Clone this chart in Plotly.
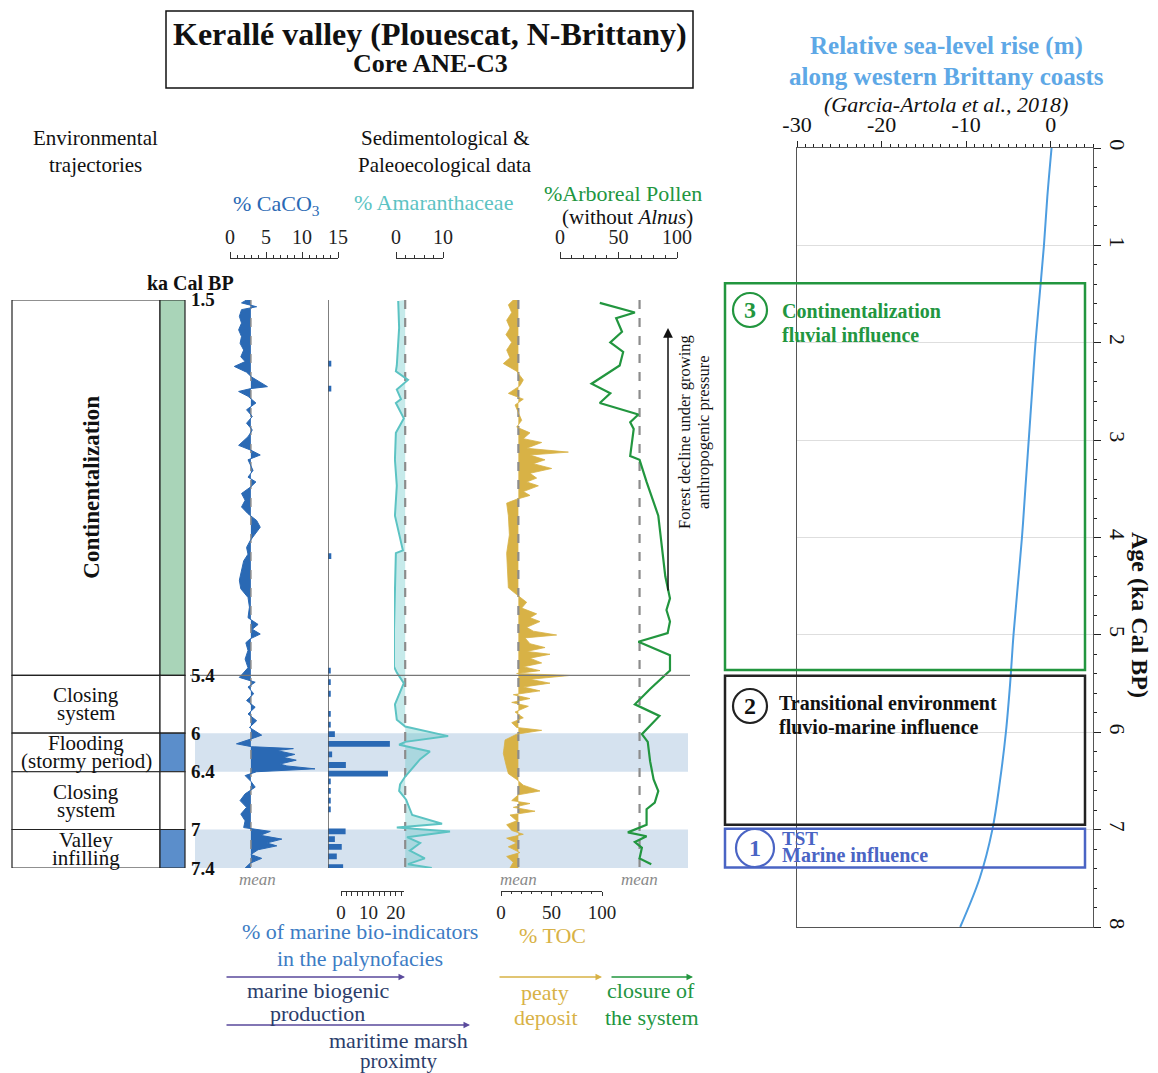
import plotly.graph_objects as go

W, H = 1158, 1073
FONT = "Liberation Serif"

# ---------------- core ANE-C3 (ages in ka cal BP) ----------------
CORE_TOP, CORE_BASE = 1.5, 7.4

ZONE_LIMITS = [1.5, 5.4, 6.0, 6.4, 7.0, 7.4]
ZONE_TEXT = [["Continentalization"], ["Closing", "system"], ["Flooding", "(stormy period)"],
             ["Closing", "system"], ["Valley", "infilling"]]
ZONE_STRIP = ["#a9d4b8", "#ffffff", "#5b8ecb", "#ffffff", "#5b8ecb"]
AGE_LABELS = ["1.5", "5.4", "6", "6.4", "7", "7.4"]
MARINE_BANDS = [(6.0, 6.4), (7.0, 7.4)]

# % CaCO3
CACO3_AGE = [1.50, 1.53, 1.57, 1.60, 1.67, 1.74, 1.81, 1.88, 1.95, 2.02,
             2.09, 2.14, 2.19, 2.25, 2.30, 2.35, 2.40, 2.42, 2.45, 2.50,
             2.57, 2.64, 2.71, 2.78, 2.85, 2.92, 3.01, 3.06, 3.11, 3.16,
             3.27, 3.34, 3.39, 3.44, 3.51, 3.58, 3.65, 3.72, 3.79, 3.86,
             3.93, 4.00, 4.07, 4.14, 4.21, 4.31, 4.41, 4.50, 4.59, 4.69,
             4.80, 4.87, 4.92, 4.97, 5.02, 5.06, 5.14, 5.23, 5.32, 5.42,
             5.47, 5.52, 5.59, 5.66, 5.73, 5.80, 5.87, 5.94, 6.02, 6.06,
             6.11, 6.14, 6.16, 6.18, 6.22, 6.25, 6.28, 6.32, 6.34, 6.37,
             6.40, 6.44, 6.50, 6.56, 6.63, 6.70, 6.77, 6.84, 6.91, 6.98,
             7.02, 7.06, 7.10, 7.14, 7.17, 7.21, 7.26, 7.30, 7.35, 7.40]
CACO3_PCT = [2.3, 1.6, 3.7, 1.6, 1.3, 1.6, 1.2, 1.6, 1.4, 1.9,
             1.5, 2.1, 0.6, 2.3, 3.0, 4.2, 5.2, 2.9, 1.2, 2.5,
             3.6, 2.3, 3.1, 2.3, 3.1, 2.5, 1.2, 2.9, 4.2, 2.5,
             3.2, 2.5, 3.6, 2.9, 1.6, 2.1, 1.6, 2.5, 3.7, 4.2,
             3.5, 2.8, 2.3, 2.5, 1.9, 1.6, 1.3, 1.5, 2.5, 2.7,
             2.5, 3.9, 3.1, 4.2, 2.8, 2.2, 2.5, 2.1, 2.5, 1.3,
             3.5, 2.5, 3.3, 2.3, 3.5, 2.5, 3.7, 2.7, 4.4, 2.9,
             0.9, 3.0, 8.8, 6.5, 9.0, 7.4, 9.2, 6.9, 7.9, 11.8,
             3.7, 2.1, 2.9, 3.5, 2.1, 1.4, 2.3, 1.5, 2.1, 1.9,
             5.6, 4.2, 7.2, 5.1, 6.5, 3.9, 2.9, 4.4, 2.8, 2.1]
CACO3_MEAN = 2.9

# % of marine bio-indicators in the palynofacies
MARINE_AGE = [2.16, 2.42, 4.16, 5.35, 5.47, 5.59, 5.80, 5.91, 6.01, 6.11, 6.22,
              6.33, 6.42, 6.50, 6.60, 6.70, 6.79, 7.02, 7.10, 7.18, 7.28, 7.39]
MARINE_PCT = [1.2, 1.2, 1.2, 1.0, 1.0, 1.0, 1.0, 1.0, 2.5, 22.5, 1.5,
              6.5, 21.8, 1.0, 1.0, 1.0, 1.0, 6.4, 2.5, 5.0, 3.2, 5.5]

# % Amaranthaceae
AMAR_AGE = [1.51, 1.79, 2.18, 2.24, 2.33, 2.43, 2.53, 2.57, 2.73, 2.88,
            3.16, 3.43, 3.74, 4.10, 4.13, 4.53, 4.92, 5.31, 5.37, 5.48,
            5.62, 5.70, 5.86, 5.93, 6.03, 6.09, 6.12, 6.19, 6.27, 6.45,
            6.53, 6.60, 6.69, 6.85, 6.94, 6.98, 7.02, 7.08, 7.14, 7.22,
            7.30, 7.36, 7.40]
AMAR_PCT = [0.9, 1.1, 0.6, 0.4, 3.0, 0.6, 1.5, 0.4, 2.1, 0.4,
            0.2, 0.6, 0.2, 1.9, 0.4, 0.2, 0.0, 0.0, 0.6, 2.1,
            0.9, 0.2, 0.6, 2.4, 11.6, 2.4, 1.1, 7.7, 5.6, 2.4,
            1.3, 1.1, 2.6, 3.9, 10.3, 0.6, 12.0, 2.8, 5.6, 3.4,
            6.6, 3.0, 8.1]
AMAR_MEAN = 2.4

# % TOC
TOC_AGE = [1.50, 1.55, 1.63, 1.71, 1.79, 1.86, 1.94, 2.02, 2.10, 2.16,
           2.24, 2.33, 2.39, 2.47, 2.53, 2.59, 2.67, 2.75, 2.82, 2.88,
           2.94, 2.98, 3.04, 3.08, 3.11, 3.16, 3.20, 3.25, 3.30, 3.35,
           3.39, 3.43, 3.49, 3.53, 3.57, 3.61, 3.74, 3.94, 4.13, 4.33,
           4.49, 4.56, 4.64, 4.70, 4.76, 4.80, 4.84, 4.90, 4.94, 4.98,
           5.01, 5.07, 5.11, 5.15, 5.18, 5.22, 5.27, 5.31, 5.35, 5.38,
           5.40, 5.44, 5.48, 5.52, 5.56, 5.60, 5.64, 5.68, 5.72, 5.78,
           5.84, 5.89, 5.94, 5.97, 6.01, 6.07, 6.21, 6.33, 6.42, 6.48,
           6.54, 6.60, 6.64, 6.70, 6.73, 6.77, 6.81, 6.85, 6.91, 6.95,
           7.01, 7.05, 7.09, 7.14, 7.18, 7.24, 7.28, 7.34, 7.40]
TOC_PCT = [12.2, 7.3, 10.6, 5.6, 8.9, 4.9, 10.6, 5.6, 8.9, 2.3,
           15.5, 22.1, 18.8, 7.3, 22.1, 13.9, 17.2, 20.5, 15.5, 28.7,
           22.1, 40.3, 25.4, 66.7, 28.7, 43.6, 32.0, 50.2, 28.7, 35.3,
           25.4, 37.0, 22.1, 28.7, 15.5, 5.6, 7.3, 8.3, 5.6, 6.3,
           7.3, 15.5, 25.4, 20.5, 35.3, 28.7, 38.6, 25.4, 32.0, 55.1,
           23.8, 28.7, 43.6, 25.4, 48.5, 28.7, 40.3, 22.1, 38.6, 15.5,
           68.3, 28.7, 48.5, 22.1, 38.6, 12.2, 28.7, 10.6, 27.1, 13.9,
           22.1, 10.6, 15.5, 40.3, 15.5, 4.0, 2.3, 5.0, 7.3, 15.5,
           22.1, 38.6, 17.2, 10.6, 28.7, 12.2, 33.7, 8.9, 15.5, 5.6,
           10.6, 22.1, 5.6, 15.5, 7.3, 18.8, 5.6, 12.2, 8.9]
TOC_MEAN = 17.2

# % Arboreal Pollen (without Alnus)
AP_AGE = [1.53, 1.63, 1.69, 1.83, 1.94, 2.04, 2.18, 2.37, 2.47, 2.57,
          2.69, 2.77, 2.84, 3.12, 3.16, 3.39, 3.74, 4.06, 4.37, 4.60,
          4.72, 4.84, 4.96, 5.05, 5.19, 5.35, 5.54, 5.70, 5.82, 6.01,
          6.09, 6.29, 6.48, 6.60, 6.72, 6.79, 6.95, 7.03, 7.07, 7.13,
          7.19, 7.30, 7.36]
AP_PCT = [34, 64, 48, 53, 43, 54, 51, 27, 43, 34,
          67, 60, 63, 60, 68, 74, 84, 87, 90, 94,
          91, 94, 92, 67, 94, 94, 77, 64, 85, 70,
          75, 77, 80, 84, 81, 74, 74, 58, 74, 64,
          70, 68, 78]
AP_MEAN = 68

# ---------------- relative sea level, western Brittany ----------------
SL_AGE = [0, 0.5, 1, 1.5, 2, 2.5, 3, 3.5, 4, 4.5, 5, 5.5, 6, 6.5, 7, 7.5, 8]
SL_M = [0.1, -0.4, -0.8, -1.3, -1.8, -2.2, -2.6, -3.0, -3.4, -3.9, -4.4, -4.8,
        -5.3, -6.0, -6.9, -8.4, -10.7]
SL_TICKS = [-30, -20, -10, 0]
PHASES = [(1.39, 5.36), (5.42, 6.95), (6.99, 7.39)]

BLUE = "#2a69b4"
TEAL = "#5cc3c3"
GOLD = "#d8b246"
GREEN = "#22963f"
SKY = "#4d9de0"
GREY = "#8c8c8c"


def xd(a, b):
    return [a / W, b / W]


def yd(a, b):
    return [1 - b / H, 1 - a / H]


fig = go.Figure()

# CaCO3
fig.add_trace(go.Scatter(x=[CACO3_MEAN] * 2, y=[CORE_TOP, CORE_BASE], xaxis="x", yaxis="y",
                         mode="lines", line=dict(color=GREY, width=1.5, dash="dash")))
fig.add_trace(go.Scatter(x=CACO3_PCT, y=CACO3_AGE, xaxis="x", yaxis="y", mode="lines",
                         line=dict(color=BLUE, width=1), fill="tonextx", fillcolor=BLUE))

# marine bio-indicators
fig.add_trace(go.Bar(x=MARINE_PCT, y=MARINE_AGE, orientation="h", width=0.06,
                     xaxis="x2", yaxis="y", marker=dict(color=BLUE, line_width=0)))
fig.add_trace(go.Scatter(x=[None], y=[None], xaxis="x3", yaxis="y"))

# Amaranthaceae
fig.add_trace(go.Scatter(x=[AMAR_MEAN] * 2, y=[CORE_TOP, CORE_BASE], xaxis="x4", yaxis="y",
                         mode="lines", line=dict(color=GREY, width=2.2, dash="dash")))
fig.add_trace(go.Scatter(x=AMAR_PCT, y=AMAR_AGE, xaxis="x4", yaxis="y", mode="lines",
                         line=dict(color=TEAL, width=2), fill="tonextx",
                         fillcolor="rgba(92,195,195,0.35)"))
fig.add_trace(go.Scatter(x=[None], y=[None], xaxis="x5", yaxis="y"))

# TOC
fig.add_trace(go.Scatter(x=[TOC_MEAN] * 2, y=[CORE_TOP, CORE_BASE], xaxis="x6", yaxis="y",
                         mode="lines", line=dict(color=GREY, width=2.2, dash="dash")))
fig.add_trace(go.Scatter(x=TOC_PCT, y=TOC_AGE, xaxis="x6", yaxis="y", mode="lines",
                         line=dict(color=GOLD, width=0.8), fill="tonextx", fillcolor=GOLD))

# Arboreal pollen
fig.add_trace(go.Scatter(x=[AP_MEAN] * 2, y=[CORE_TOP, CORE_BASE], xaxis="x7", yaxis="y",
                         mode="lines", line=dict(color=GREY, width=2.2, dash="dash")))
fig.add_trace(go.Scatter(x=AP_PCT, y=AP_AGE, xaxis="x7", yaxis="y", mode="lines",
                         line=dict(color=GREEN, width=2.2)))

# sea level
fig.add_trace(go.Scatter(x=SL_M, y=SL_AGE, xaxis="x8", yaxis="y2", mode="lines",
                         line=dict(color=SKY, width=2, shape="spline")))

ruler = dict(showline=True, linecolor="#333", linewidth=1, ticks="outside", ticklen=6,
             tickcolor="#333", tickwidth=1, showgrid=False, zeroline=False,
             tickfont=dict(family=FONT, size=20, color="#222"), anchor="free",
             automargin=False)
low_ruler = dict(ruler, ticklen=4, tickfont=dict(family=FONT, size=19, color="#222"))
top_pos = 1 - 258 / H
bottom_pos = 1 - 891 / H

fig.update_layout(
    width=W, height=H, margin=dict(l=0, r=0, t=0, b=0, pad=0), autosize=False,
    paper_bgcolor="white", plot_bgcolor="rgba(0,0,0,0)", showlegend=False,
    font=dict(family=FONT, color="#111"),
    xaxis=dict(domain=xd(230, 338), range=[0, 15], side="top", position=top_pos, dtick=5,
               minor=dict(dtick=1, ticklen=3, ticks="outside", tickcolor="#333"), **ruler),
    xaxis2=dict(domain=xd(328, 396.75), range=[0, 25], visible=False, anchor="y",
                automargin=False),
    xaxis3=dict(domain=xd(341, 404), range=[0, 23], side="bottom", position=bottom_pos,
                dtick=10, minor=dict(dtick=2, ticklen=4, ticks="outside", tickcolor="#333"),
                **low_ruler),
    xaxis4=dict(domain=xd(394, 394 + 14 * 4.667), range=[0, 14], visible=False, anchor="y",
                automargin=False),
    xaxis5=dict(domain=xd(396, 443), range=[0, 10], side="top", position=top_pos, dtick=10,
                minor=dict(dtick=2, ticklen=3, ticks="outside", tickcolor="#333"), **ruler),
    xaxis6=dict(domain=xd(501, 602), range=[0, 100], side="bottom", position=bottom_pos,
                dtick=50, minor=dict(dtick=10, ticklen=2, ticks="outside", tickcolor="#333"),
                **low_ruler),
    xaxis7=dict(domain=xd(560, 677), range=[0, 100], side="top", position=top_pos, dtick=50,
                minor=dict(dtick=10, ticklen=3, ticks="outside", tickcolor="#333"), **ruler),
    xaxis8=dict(domain=xd(797, 1093), range=[-30, 5], side="top", anchor="y2",
                tickvals=SL_TICKS, ticktext=[str(v) for v in SL_TICKS],
                ticks="outside", ticklen=6, tickcolor="#222", showline=True, mirror=True,
                linecolor="#555", linewidth=1.2, showgrid=False, zeroline=False,
                automargin=False,
                minor=dict(dtick=1, ticklen=3, ticks="outside", tickcolor="#222"),
                tickfont=dict(family=FONT, size=22, color="#111")),
    yaxis=dict(domain=yd(300, 868), range=[CORE_BASE, CORE_TOP], visible=False, anchor="x",
               automargin=False),
    yaxis2=dict(domain=yd(148, 927), range=[8, 0], side="right", anchor="x8", dtick=1,
                ticks="outside", ticklen=7, tickcolor="#222", tickangle=90,
                showgrid=True, gridcolor="#dedede", gridwidth=1, zeroline=False,
                showline=True, mirror=True, linecolor="#555", linewidth=1.2,
                automargin=False,
                minor=dict(dtick=0.2, ticklen=3, ticks="outside", tickcolor="#222"),
                tickfont=dict(family=FONT, size=22, color="#111")),
)

shapes = []
# title box
shapes.append(dict(type="rect", xref="paper", yref="paper", x0=166 / W, x1=693 / W,
                   y0=1 - 88 / H, y1=1 - 11 / H, line=dict(color="#111", width=1.5)))
# marine-influence bands
for a0, a1 in MARINE_BANDS:
    shapes.append(dict(type="rect", xref="paper", yref="y", x0=195 / W, x1=688 / W,
                       y0=a0, y1=a1, fillcolor="#d5e2ef", line=dict(width=0), layer="below"))
# environmental trajectory column
for i in range(len(ZONE_TEXT)):
    a0, a1 = ZONE_LIMITS[i], ZONE_LIMITS[i + 1]
    shapes.append(dict(type="rect", xref="paper", yref="y", x0=12 / W, x1=160 / W,
                       y0=a0, y1=a1, fillcolor="white", line=dict(color="#222", width=1.2),
                       layer="below"))
    shapes.append(dict(type="rect", xref="paper", yref="y", x0=160 / W, x1=185 / W,
                       y0=a0, y1=a1, fillcolor=ZONE_STRIP[i], line=dict(color="#222", width=1.2),
                       layer="below"))
# 5.4 ka limit
shapes.append(dict(type="line", xref="paper", yref="y", x0=190 / W, x1=690 / W,
                   y0=ZONE_LIMITS[1], y1=ZONE_LIMITS[1], line=dict(color="#777", width=1.3)))
# marine indicators baseline
shapes.append(dict(type="line", xref="x2", yref="y", x0=0, x1=0, y0=CORE_TOP, y1=CORE_BASE,
                   line=dict(color="#555", width=1.5)))
# phases on sea-level panel
phase_cols = [GREEN, "#222", "#4a64c4"]
for (a0, a1), c in zip(PHASES, phase_cols):
    shapes.append(dict(type="rect", xref="paper", yref="y2", x0=725 / W, x1=1085 / W,
                       y0=a0, y1=a1, line=dict(color=c, width=2.5)))
for (cx, cy, r), c in zip([(750, 310, 17), (750, 706, 17), (755, 848, 19)], phase_cols):
    shapes.append(dict(type="circle", xref="paper", yref="paper", x0=(cx - r) / W,
                       x1=(cx + r) / W, y0=1 - (cy + r) / H, y1=1 - (cy - r) / H,
                       line=dict(color=c, width=2.2)))
fig.update_layout(shapes=shapes)


def label(text, x, y, size=18, color="#111", angle=0, xanchor="center", yref="paper", yshift=0):
    yy = y if yref == "y" else 1 - y / H
    fig.add_annotation(text=text, x=x / W, y=yy, xref="paper", yref=yref, showarrow=False,
                       font=dict(family=FONT, size=size, color=color), textangle=angle,
                       xanchor=xanchor, yanchor="middle", yshift=yshift)


def arrow(x0, x1, y, color, vertical=False):
    if vertical:
        fig.add_annotation(x=x0 / W, y=1 - x1 / H, xref="paper", yref="paper", ax=0,
                           ay=y - x1, axref="pixel", ayref="pixel", text="", showarrow=True,
                           arrowhead=2, arrowsize=1.3, arrowwidth=1.5, arrowcolor=color)
    else:
        fig.add_annotation(x=x1 / W, y=1 - y / H, xref="paper", yref="paper", ax=x0 - x1,
                           ay=0, axref="pixel", ayref="pixel", text="", showarrow=True,
                           arrowhead=2, arrowsize=1, arrowwidth=1.3, arrowcolor=color)


# titles
label("<b>Kerallé valley (Plouescat, N-Brittany)</b>", 430, 34, 32)
label("<b>Core ANE-C3</b>", 430, 63, 26)
label("Environmental", 95, 138, 21)
label("trajectories", 95, 165, 21)
label("Sedimentological &", 445, 138, 21)
label("Paleoecological data", 445, 165, 21)
label("% CaCO<sub>3</sub>", 276, 205, 22, BLUE)
label("% Amaranthaceae", 433, 202, 22, TEAL)
label("%Arboreal Pollen", 623, 193, 22, GREEN)
label("(without <i>Alnus</i>)", 627, 217, 21)
label("<b>ka Cal BP</b>", 190, 283, 20)

# zone names and age labels
for i, lines in enumerate(ZONE_TEXT):
    mid = (ZONE_LIMITS[i] + ZONE_LIMITS[i + 1]) / 2
    if len(lines) == 1:
        label("<b>" + lines[0] + "</b>", 92, mid, 23, angle=-90, yref="y")
    else:
        label(lines[0], 86, mid, 21, yref="y", yshift=9)
        label(lines[1], 86, mid, 21, yref="y", yshift=-9)
for a, t in zip(ZONE_LIMITS, AGE_LABELS):
    label("<b>" + t + "</b>", 189, a, 19, xanchor="left", yref="y")

# mean labels
for xm in [257, 518, 639]:
    label("<i>mean</i>", xm, 879, 17, "#8a8a8a")

# bottom legends
label("% of marine bio-indicators", 360, 931, 22, "#3d7cc4")
label("in the palynofacies", 360, 958, 22, "#3d7cc4")
label("% TOC", 552, 935, 22, GOLD)
arrow(225, 405, 977, "#5a4a9c")
arrow(225, 470, 1025, "#5a4a9c")
arrow(498, 602, 977, GOLD)
arrow(610, 693, 977, GREEN)
label("marine biogenic", 318, 990, 22, "#2b3d6b")
label("production", 317, 1013, 22, "#2b3d6b")
label("maritime marsh", 398, 1040, 22, "#2b3d6b")
label("proximty", 398, 1061, 21, "#2b3d6b")
label("peaty", 545, 992, 22, GOLD)
label("deposit", 546, 1017, 22, GOLD)
label("closure of", 651, 990, 22, GREEN)
label("the system", 652, 1017, 22, GREEN)

# forest decline arrow
arrow(668, 328, 592, "#111", vertical=True)
label("Forest decline under growing", 684, 432, 16.5, angle=-90)
label("anthropogenic pressure", 703, 432, 16.5, angle=-90)

# sea-level panel text
label("<b>Relative sea-level rise (m)</b>", 946, 46, 25, "#5ea8e6")
label("<b>along western Brittany coasts</b>", 946, 76, 25, "#5ea8e6")
label("<i>(Garcia-Artola et al., 2018)</i>", 946, 104, 22)
label("<b>Age (ka Cal BP)</b>", 1140, 615, 24, angle=90)
label("<b>3</b>", 750, 310, 24, GREEN)
label("<b>Continentalization</b>", 780, 311, 20, GREEN, xanchor="left")
label("<b>fluvial influence</b>", 780, 335, 20, GREEN, xanchor="left")
label("<b>2</b>", 750, 706, 24, "#111")
label("<b>Transitional environment</b>", 777, 703, 20, "#111", xanchor="left")
label("<b>fluvio-marine influence</b>", 777, 727, 20, "#111", xanchor="left")
label("<b>1</b>", 755, 848, 24, "#4a64c4")
label("<b>TST</b>", 780, 838, 19, "#4a64c4", xanchor="left")
label("<b>Marine influence</b>", 780, 855, 20, "#4a64c4", xanchor="left")

fig.write_html("out.html", config={"displayModeBar": False},
               post_script="document.body.style.margin='0px';")
